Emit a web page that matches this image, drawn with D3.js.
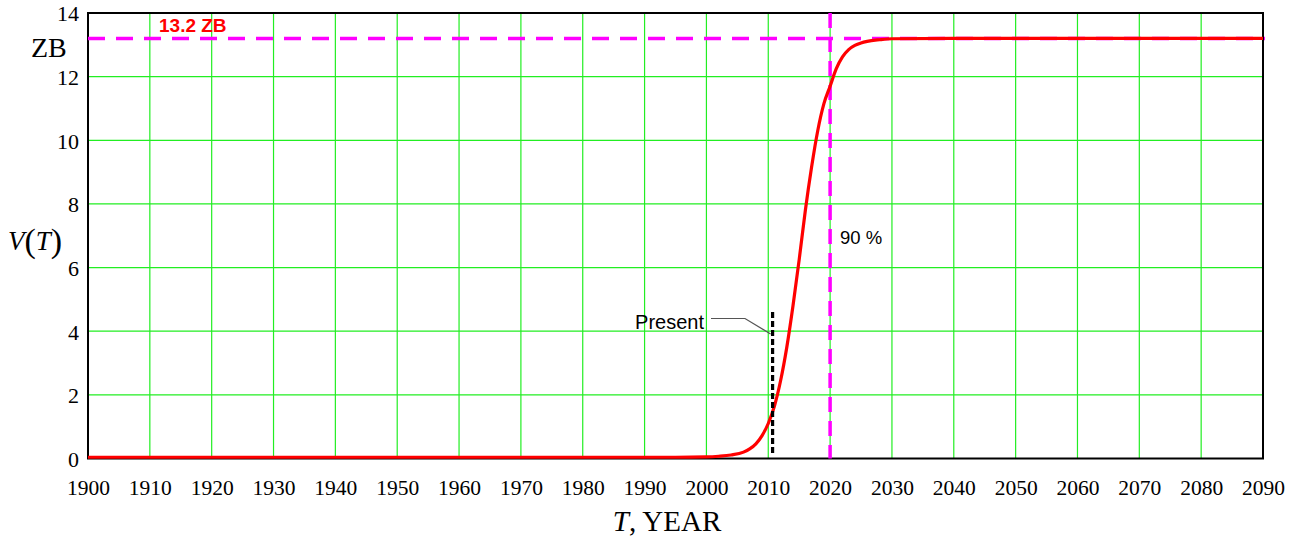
<!DOCTYPE html>
<html><head><meta charset="utf-8">
<script src="https://cdn.jsdelivr.net/npm/d3@7"></script>
<style>body{margin:0;background:#fff}svg{display:block}
.tick text{font-family:'Liberation Serif','Times New Roman',serif !important;}
</style>
</head><body>
<svg id="chart" width="1300" height="543"></svg>
<script>
// Data
const years = [1900, 1950, 1990, 1995, 2000, 2002, 2004, 2006, 2007, 2008, 2009, 2010, 2011, 2012, 2013, 2014, 2015, 2016, 2017, 2018, 2019, 2020, 2021, 2022, 2023, 2024, 2025, 2026, 2028, 2030, 2040, 2090];
const volume = [0.04, 0.04, 0.04, 0.04, 0.05, 0.07, 0.11, 0.20, 0.30, 0.46, 0.72, 1.10, 1.65, 2.45, 3.50, 4.80, 6.25, 7.80, 9.15, 10.30, 11.15, 11.70, 12.25, 12.62, 12.85, 12.98, 13.06, 13.11, 13.16, 13.19, 13.2, 13.2];
const xTicks = [1900, 1910, 1920, 1930, 1940, 1950, 1960, 1970, 1980, 1990, 2000, 2010, 2020, 2030, 2040, 2050, 2060, 2070, 2080, 2090];
const yTicks = [0, 2, 4, 6, 8, 10, 12, 14];
const saturation = 13.2;
const ninetyYear = 2020;
const presentYear = 2010.7;
const presentRange = [0.15, 4.6];

const serif = "'Liberation Serif', 'Times New Roman', serif";
const sans = "'Liberation Sans', Arial, sans-serif";

const svg = d3.select("#chart");
const L = 88, R = 1263, T = 13, B = 458.5;
const x = d3.scaleLinear().domain([1900, 2090]).range([L, R]);
const y = d3.scaleLinear().domain([0, 14]).range([B, T]);

// grid
svg.append("g").selectAll("line").data(xTicks.slice(1, -1)).join("line")
  .attr("x1", d => x(d)).attr("x2", d => x(d)).attr("y1", T).attr("y2", B)
  .attr("stroke", "#22ee22").attr("stroke-width", 1.2);
svg.append("g").selectAll("line").data(yTicks.slice(1, -1)).join("line")
  .attr("x1", L).attr("x2", R).attr("y1", d => y(d)).attr("y2", d => y(d))
  .attr("stroke", "#22ee22").attr("stroke-width", 1.2);

// frame
svg.append("rect").attr("x", L).attr("y", T).attr("width", R - L).attr("height", B - T)
  .attr("fill", "none").attr("stroke", "#000").attr("stroke-width", 2);

// axes labels via d3 axes
const xAxis = svg.append("g").attr("transform", `translate(0,${B})`)
  .call(d3.axisBottom(x).tickValues(xTicks).tickFormat(d3.format("d")).tickSize(0).tickPadding(0));
xAxis.select(".domain").remove();
xAxis.attr("font-family", serif).attr("font-size", 21.5);
xAxis.selectAll("text").attr("dy", null).attr("y", 36)
  .style("font-family", serif).style("font-size", "21.5px").style("fill", "#000");

const yAxis = svg.append("g").attr("transform", `translate(${L},0)`)
  .call(d3.axisLeft(y).tickValues(yTicks).tickSize(0).tickPadding(9));
yAxis.select(".domain").remove();
yAxis.attr("font-family", serif).attr("font-size", 22);
yAxis.selectAll("text").attr("dy", "0.36em")
  .style("font-family", serif).style("font-size", "22px").style("fill", "#000");

// 13.2 ZB horizontal line
svg.append("line").attr("x1", L).attr("x2", R + 2).attr("y1", y(saturation)).attr("y2", y(saturation))
  .attr("stroke", "#ff00ff").attr("stroke-width", 3.5).attr("stroke-dasharray", "17,11");

// 90% vertical line
svg.append("line").attr("x1", x(ninetyYear)).attr("x2", x(ninetyYear)).attr("y1", T).attr("y2", B)
  .attr("stroke", "#ff00ff").attr("stroke-width", 3.5).attr("stroke-dasharray", "15,9");

// curve
const line = d3.line().x((d, i) => x(years[i])).y(d => y(d)).curve(d3.curveMonotoneX);
svg.append("path").attr("d", line(volume)).attr("fill", "none").attr("stroke", "#ff0000").attr("stroke-width", 3.2);

// present marker
svg.append("line").attr("x1", x(presentYear)).attr("x2", x(presentYear))
  .attr("y1", y(presentRange[1])).attr("y2", y(presentRange[0]))
  .attr("stroke", "#000").attr("stroke-width", 3.2).attr("stroke-dasharray", "6,3");
svg.append("polyline")
  .attr("points", `711,318.5 745,318.5 ${x(presentYear) - 2},334`)
  .attr("fill", "none").attr("stroke", "#555").attr("stroke-width", 1.2);
svg.append("text").attr("x", 704).attr("y", 329).attr("text-anchor", "end")
  .style("font-family", sans).style("font-size", "20px").text("Present");

// annotations
svg.append("text").attr("x", 840).attr("y", 244)
  .style("font-family", sans).style("font-size", "18.5px").text("90 %");
svg.append("text").attr("x", 159).attr("y", 32).attr("fill", "#ff0000")
  .style("font-weight", "bold").style("font-family", sans).style("font-size", "19px").text("13.2 ZB");

// axis titles
svg.append("text").attr("x", 31).attr("y", 57).style("font-family", serif).style("font-size", "28px").text("ZB");
const vt = svg.append("text").attr("x", 8).attr("y", 250).style("font-family", serif).style("font-size", "27px");
vt.append("tspan").style("font-style", "italic").text("V");
vt.append("tspan").style("font-size", "34px").attr("dy", 2).text("(");
vt.append("tspan").style("font-style", "italic").attr("dy", -2).text("T");
vt.append("tspan").style("font-size", "34px").attr("dy", 2).text(")");
const xt = svg.append("text").attr("x", 667).attr("y", 531).attr("text-anchor", "middle")
  .style("font-family", serif).style("font-size", "29px");
xt.append("tspan").style("font-style", "italic").text("T");
xt.append("tspan").text(", YEAR");
</script>
</body></html>
